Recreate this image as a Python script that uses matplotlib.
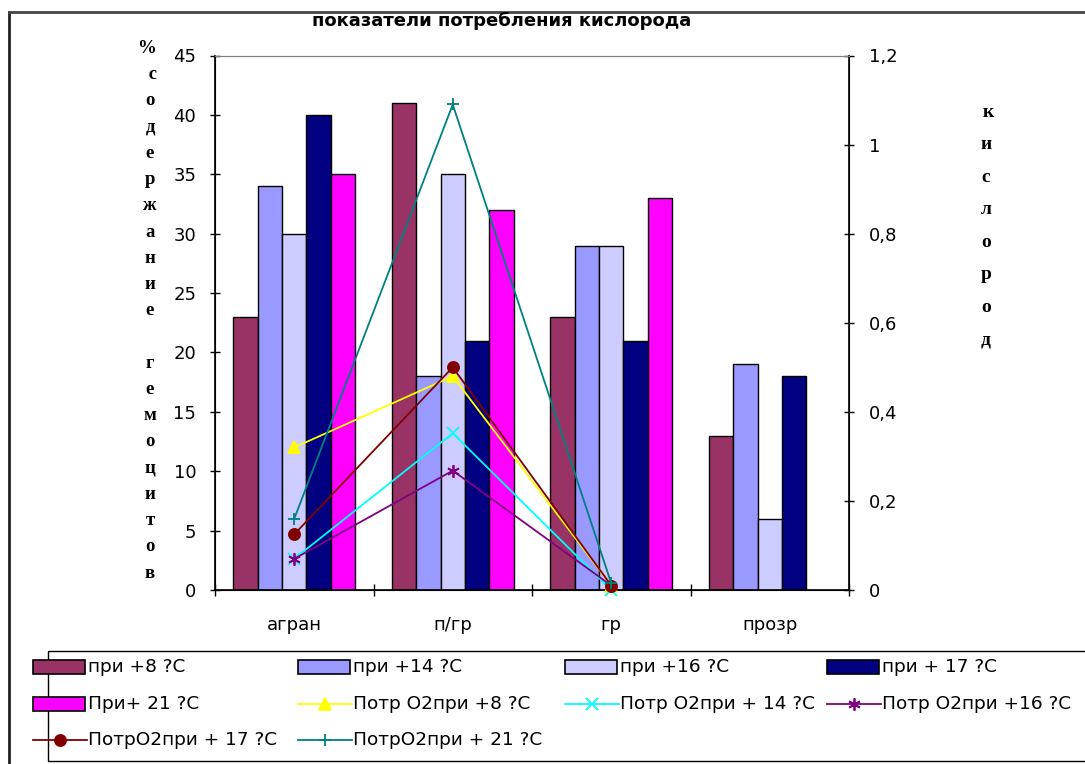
#!/usr/bin/env python3

'''
Hemocyte content and oxygen consumption chart.
'''

import numpy as np
import matplotlib.pyplot as pl
from matplotlib.patches import Rectangle
from matplotlib.lines import Line2D

# categories
cats=['агран','п/гр','гр','прозр']

# bar series, % hemocyte content
bar_names=['при +8 ?C','при +14 ?C','при +16 ?C','при + 17 ?C','При+ 21 ?C']
bar_vals=[[23,41,23,13],
          [34,18,29,19],
          [30,35,29,6],
          [40,21,21,18],
          [35,32,33,np.nan]]
bar_colors=['#993366','#9999FF','#CCCCFF','#000080','#FF00FF']

# line series, oxygen consumption
line_names=['Потр О2при +8 ?C','Потр О2при + 14 ?C','Потр О2при +16 ?C',
            'ПотрО2при + 17 ?C','ПотрО2при + 21 ?C']
line_vals=[[0.32,0.48,0.01,np.nan],
           [0.07,0.352,0.0,np.nan],
           [0.07,0.268,0.01,np.nan],
           [0.125,0.50,0.01,np.nan],
           [0.16,1.09,0.015,np.nan]]
line_colors=['#FFFF00','#00FFFF','#800080','#800000','#008080']
line_markers=['^','x',(6,2,0),'o','+']
line_msize=[9,8,9,8,9]

left_ticks=np.arange(0,46,5)
right_ticks=[0,0.2,0.4,0.6,0.8,1.0,1.2]
right_labels=['0','0,2','0,4','0,6','0,8','1','1,2']

pl.rcParams['font.family']=['DejaVu Sans']

W,H=1085,764
fig=pl.figure(figsize=(W/100,H/100),dpi=100)
ax=fig.add_axes([215/W,1-590/H,634/W,534.5/H])

x=np.arange(len(cats))
w=1/6.5
for j,(vals,col) in enumerate(zip(bar_vals,bar_colors)):
    ax.bar(x+(j-2)*w,vals,width=w,color=col,edgecolor='black',linewidth=1.0,zorder=2)

ax.set_xlim(-0.5,3.5)
ax.set_ylim(0,45)
ax.set_yticks(left_ticks)
ax.tick_params(axis='y',direction='inout',length=7,width=1,labelsize=13,pad=10)
ax.set_xticks(np.arange(-0.5,3.6,1.0))
ax.set_xticklabels([])
ax.set_xticks(x,minor=True)
ax.set_xticklabels(cats,minor=True)
ax.tick_params(axis='x',which='major',direction='inout',length=8,width=1)
ax.tick_params(axis='x',which='minor',length=0,labelsize=13,pad=19)
ax.spines['top'].set_color('#808080')
for s in ['left','bottom']:
    ax.spines[s].set_linewidth(1.2)

ax2=ax.twinx()
for vals,col,mk,ms in zip(line_vals,line_colors,line_markers,line_msize):
    ax2.plot(x,vals,color=col,marker=mk,markersize=ms,linewidth=1.3,
             markeredgewidth=1.3,zorder=3,clip_on=False)
ax2.set_ylim(0,1.2)
ax2.set_yticks(right_ticks)
ax2.set_yticklabels(right_labels)
ax2.tick_params(axis='y',direction='inout',length=7,width=1,labelsize=13,pad=11)
ax2.spines['top'].set_color('#808080')
ax2.spines['right'].set_linewidth(1.2)

# title
fig.text(502/W,1-21/H,'показатели потребления кислорода',ha='center',va='center',
         fontsize=13,fontweight='bold')

# stacked axis labels
left_lab='% \n с\nо\nд\nе\nр\nж\nа\nн\nи\nе\n \nг\nе\nм\nо\nц\nи\nт\nо\nв'
fig.text(150/W,1-40/H,left_lab,ha='center',va='top',fontsize=13.5,fontweight='bold',
         family='Liberation Serif',linespacing=1.71)
right_lab=' к\nи\nс\nл\nо\nр\nо\nд'
fig.text(986/W,1-104/H,right_lab,ha='center',va='top',fontsize=14,fontweight='bold',
         family='Liberation Serif',linespacing=2.19)

# figure border
fig.add_artist(Line2D([9/W,9/W],[0,1-12/H],color='#222222',linewidth=2))
fig.add_artist(Line2D([9/W,1],[1-12/H,1-12/H],color='#444444',linewidth=2))

# legend, drawn in pixel space
lax=fig.add_axes([0,0,1,1])
lax.set_xlim(0,W)
lax.set_ylim(H,0)
lax.axis('off')
lax.add_patch(Rectangle((48,651),1100,110,fill=False,edgecolor='black',linewidth=1))
row_y=[667,704,740]
col_x=[33,298,565,827]
entries=[('bar',n,c,None,None) for n,c in zip(bar_names,bar_colors)]
entries+=[('line',n,c,m,s) for n,c,m,s in zip(line_names,line_colors,line_markers,line_msize)]
for i,(kind,name,col,mk,ms) in enumerate(entries):
    x0=col_x[i%4]
    y0=row_y[i//4]
    if kind=='bar':
        lax.add_patch(Rectangle((x0,y0-7),52,14,facecolor=col,edgecolor='black',linewidth=1.2))
    else:
        lax.plot([x0,x0+54],[y0,y0],color=col,linewidth=1.3)
        lax.plot([x0+27],[y0],color=col,marker=mk,markersize=ms,markeredgewidth=1.3)
    lax.text(x0+55,y0,name,ha='left',va='center',fontsize=13.3)

pl.savefig('out.png',dpi=100)
